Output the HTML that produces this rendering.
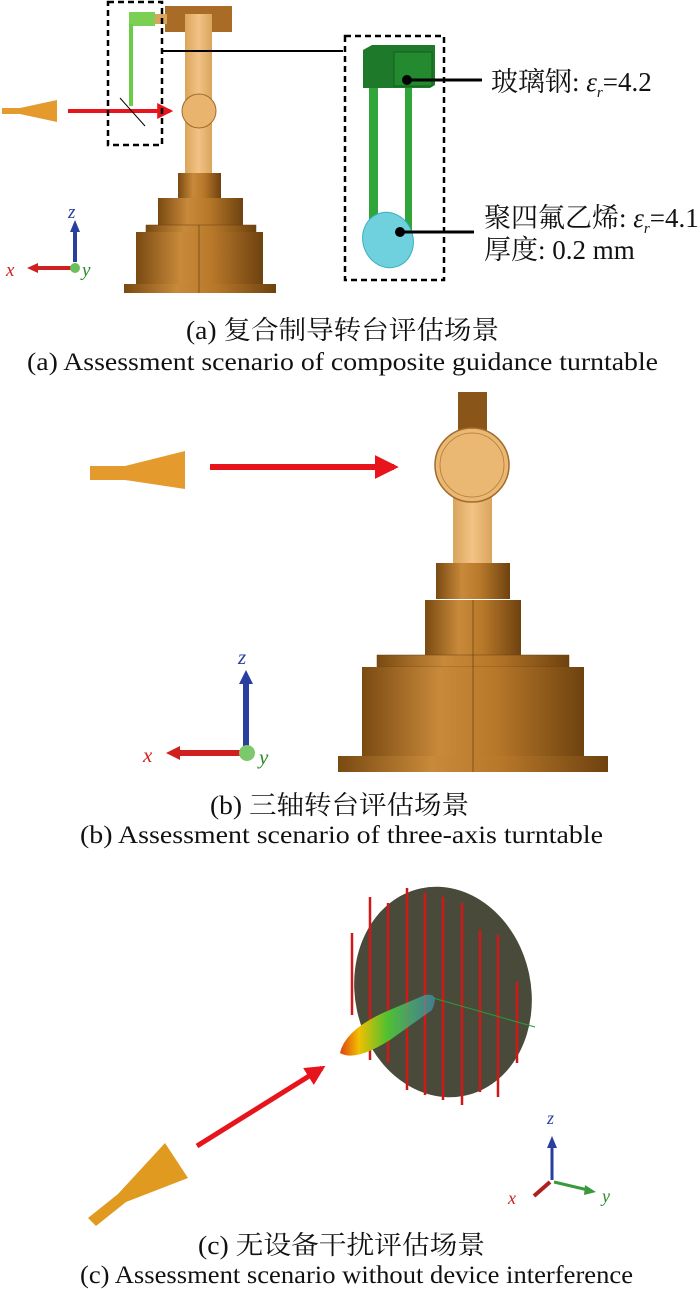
<!DOCTYPE html>
<html><head><meta charset="utf-8"><style>
body{margin:0;background:#fff}
svg{display:block}
.cap{font-family:"Liberation Serif","Noto Serif CJK SC",serif;fill:#111}
.it{font-family:"Liberation Serif",serif;font-style:italic}
</style></head><body>
<svg width="700" height="1289" viewBox="0 0 700 1289" xmlns="http://www.w3.org/2000/svg">
<defs>
<linearGradient id="br" x1="0" x2="1">
<stop offset="0" stop-color="#7a4a12"/><stop offset="0.35" stop-color="#c88a3a"/><stop offset="0.6" stop-color="#b8782a"/><stop offset="1" stop-color="#6e420f"/></linearGradient>
<linearGradient id="arm" x1="0" x2="1"><stop offset="0" stop-color="#d9a55c"/><stop offset="0.5" stop-color="#f2c386"/><stop offset="1" stop-color="#d9a55c"/></linearGradient>
<linearGradient id="lobe" x1="0" x2="1"><stop offset="0" stop-color="#e04010"/><stop offset="0.2" stop-color="#f0c000"/><stop offset="0.5" stop-color="#50c030"/><stop offset="1" stop-color="#40a0c0" stop-opacity="0.6"/></linearGradient>
<marker id="ah" viewBox="0 0 10 10" refX="8" refY="5" markerWidth="4" markerHeight="4" orient="auto"><path d="M0,0L10,5L0,10z" fill="#e8141c"/></marker>
</defs>

<!-- ===== (a) ===== -->
<path d="M2,108 L20,108 L57,100 L57,122 L20,114 L2,114z" fill="#e59a2e"/>
<line x1="68" y1="111" x2="170" y2="111" stroke="#e8141c" stroke-width="4" marker-end="url(#ah)"/>
<rect x="165" y="6" width="67" height="26" fill="#a86c26"/>
<rect x="185" y="14" width="27" height="161" fill="url(#arm)"/>
<circle cx="199" cy="111" r="17" fill="#e8b46e" stroke="#a06a2a"/>
<rect x="178" y="173" width="43" height="25" fill="url(#br)"/>
<rect x="158" y="198" width="85" height="27" fill="url(#br)"/>
<rect x="146" y="225" width="110" height="8" fill="url(#br)" stroke="#6a3f10" stroke-width="0.5"/>
<rect x="136" y="232" width="127" height="52" fill="url(#br)"/>
<rect x="124" y="284" width="152" height="9" fill="url(#br)"/>
<line x1="199" y1="225" x2="199" y2="293" stroke="#5a3508" stroke-width="0.6"/>
<rect x="129" y="12" width="26" height="14" fill="#7bcf52"/>
<rect x="129" y="24" width="4" height="82" fill="#6ccc48"/>
<rect x="155" y="14" width="12" height="10" fill="#d9a55c"/>
<line x1="120" y1="98" x2="145" y2="126" stroke="#000" stroke-width="1"/>
<rect x="108" y="2" width="54" height="143" fill="none" stroke="#000" stroke-width="2.5" stroke-dasharray="6,4"/>
<polyline points="162,51 343,51" fill="none" stroke="#000" stroke-width="2"/>
<rect x="345" y="36" width="99" height="244" fill="none" stroke="#000" stroke-width="2.5" stroke-dasharray="6,4"/>
<path d="M363,50 L372,45 L435,45 L435,85 L430,88 L363,88z" fill="#1e7a2a"/>
<rect x="394" y="52" width="38" height="34" fill="#238a30" stroke="#136018"/>
<rect x="369" y="88" width="9" height="157" fill="#2fa53a"/>
<rect x="405" y="88" width="7" height="150" fill="#2fa53a"/>
<ellipse cx="388" cy="240" rx="25" ry="28" transform="rotate(-20 388 240)" fill="#6fd0de" stroke="#3ab0c0"/>
<circle cx="407" cy="80" r="5" fill="#000"/><line x1="407" y1="80" x2="482" y2="80" stroke="#000" stroke-width="3"/>
<circle cx="400" cy="232" r="5" fill="#000"/><line x1="400" y1="232" x2="474" y2="232" stroke="#000" stroke-width="3"/>
<text x="491" y="91" class="cap" font-size="27">玻璃钢: <tspan class="it">ε</tspan><tspan class="it" font-size="15" dy="6">r</tspan><tspan dy="-6">=4.2</tspan></text>
<text x="484" y="227" class="cap" font-size="27">聚四氟乙烯: <tspan class="it">ε</tspan><tspan class="it" font-size="15" dy="6">r</tspan><tspan dy="-6">=4.1</tspan></text>
<text x="484" y="259" class="cap" font-size="27">厚度: 0.2 mm</text>
<line x1="75" y1="262" x2="75" y2="228" stroke="#2a3ea0" stroke-width="4"/><path d="M70,232 L75,220 L80,232z" fill="#2a3ea0"/>
<line x1="72" y1="268" x2="36" y2="268" stroke="#d02020" stroke-width="4"/><path d="M38,263 L27,268 L38,273z" fill="#d02020"/>
<circle cx="75" cy="268" r="5" fill="#6cbf5a"/>
<text x="68" y="218" class="it" font-size="19" fill="#2a3ea0">z</text>
<text x="6" y="276" class="it" font-size="19" fill="#d02020">x</text>
<text x="82" y="276" class="it" font-size="19" fill="#2a8a2a">y</text>
<text x="186" y="339" class="cap" font-size="26" textLength="313" lengthAdjust="spacingAndGlyphs">(a) 复合制导转台评估场景</text>
<text x="27" y="370" class="cap" font-size="25" textLength="631" lengthAdjust="spacingAndGlyphs">(a) Assessment scenario of composite guidance turntable</text>

<!-- ===== (b) ===== -->
<path d="M90,466 L125,466 L185,451 L185,489 L125,480 L90,480z" fill="#e59a2e"/>
<line x1="210" y1="467" x2="394" y2="467" stroke="#e8141c" stroke-width="6" marker-end="url(#ah)"/>
<rect x="458" y="392" width="29" height="40" fill="#8a5518"/>
<rect x="453" y="495" width="39" height="70" fill="url(#arm)"/>
<circle cx="472" cy="465" r="37" fill="#eab873" stroke="#a06a2a" stroke-width="1.5"/>
<circle cx="472" cy="465" r="32" fill="none" stroke="#b07a36" stroke-width="0.8"/>
<rect x="436" y="563" width="74" height="36" fill="url(#br)"/>
<rect x="425" y="600" width="96" height="55" fill="url(#br)"/>
<rect x="377" y="655" width="192" height="12" fill="url(#br)" stroke="#6a3f10" stroke-width="0.5"/>
<rect x="362" y="667" width="222" height="89" fill="url(#br)"/>
<rect x="338" y="756" width="270" height="16" fill="url(#br)"/>
<line x1="473" y1="600" x2="473" y2="772" stroke="#5a3508" stroke-width="0.6"/>
<line x1="246" y1="748" x2="246" y2="680" stroke="#2a3ea0" stroke-width="6"/><path d="M239,684 L246,670 L253,684z" fill="#2a3ea0"/>
<line x1="240" y1="753" x2="178" y2="753" stroke="#d02020" stroke-width="6"/><path d="M180,746 L166,753 L180,760z" fill="#d02020"/>
<circle cx="247" cy="753" r="8" fill="#7cc86a"/>
<text x="238" y="664" class="it" font-size="21" fill="#2a3ea0">z</text>
<text x="143" y="762" class="it" font-size="21" fill="#d02020">x</text>
<text x="259" y="764" class="it" font-size="21" fill="#2a8a2a">y</text>
<text x="210" y="814" class="cap" font-size="26" textLength="259" lengthAdjust="spacingAndGlyphs">(b) 三轴转台评估场景</text>
<text x="80" y="843" class="cap" font-size="25" textLength="523" lengthAdjust="spacingAndGlyphs">(b) Assessment scenario of three-axis turntable</text>

<!-- ===== (c) ===== -->
<ellipse cx="443" cy="992" rx="88" ry="106" transform="rotate(-12 443 992)" fill="#4a4a3a"/>
<g stroke="#d01818" stroke-width="2.5">
<line x1="352" y1="933" x2="352" y2="1015"/><line x1="370" y1="897" x2="370" y2="1060"/><line x1="388" y1="903" x2="388" y2="1063"/>
<line x1="407" y1="888" x2="407" y2="1090"/><line x1="425" y1="893" x2="425" y2="1095"/><line x1="443" y1="897" x2="443" y2="1100"/>
<line x1="462" y1="903" x2="462" y2="1105"/><line x1="480" y1="930" x2="480" y2="1092"/><line x1="498" y1="935" x2="498" y2="1097"/>
<line x1="517" y1="982" x2="517" y2="1063"/>
</g>
<line x1="433" y1="998" x2="535" y2="1027" stroke="#2a9a3a" stroke-width="1"/>
<path d="M340,1053 Q345,1030 385,1012 L425,995 Q440,992 432,1010 L390,1040 Q355,1062 340,1053z" fill="url(#lobe)"/>
<line x1="197" y1="1146" x2="322" y2="1068" stroke="#e8141c" stroke-width="5" marker-end="url(#ah)"/>
<path d="M88,1218 L96,1226 L126,1202 L188,1178 L165,1143 L118,1194z" fill="#e09a20"/>
<line x1="552" y1="1180" x2="552" y2="1146" stroke="#2a3ea0" stroke-width="3"/><path d="M547,1148 L552,1136 L557,1148z" fill="#2a3ea0"/>
<line x1="554" y1="1182" x2="588" y2="1190" stroke="#3a9a3a" stroke-width="3"/><path d="M585,1185 L596,1192 L584,1195z" fill="#3a9a3a"/>
<line x1="550" y1="1182" x2="534" y2="1196" stroke="#b02020" stroke-width="4"/>
<text x="547" y="1124" class="it" font-size="18" fill="#2a3ea0">z</text>
<text x="508" y="1204" class="it" font-size="18" fill="#d02020">x</text>
<text x="602" y="1202" class="it" font-size="18" fill="#2a8a2a">y</text>
<text x="198" y="1254" class="cap" font-size="26" textLength="287" lengthAdjust="spacingAndGlyphs">(c) 无设备干扰评估场景</text>
<text x="80" y="1283" class="cap" font-size="25" textLength="553" lengthAdjust="spacingAndGlyphs">(c) Assessment scenario without device interference</text>
</svg>
</body></html>
